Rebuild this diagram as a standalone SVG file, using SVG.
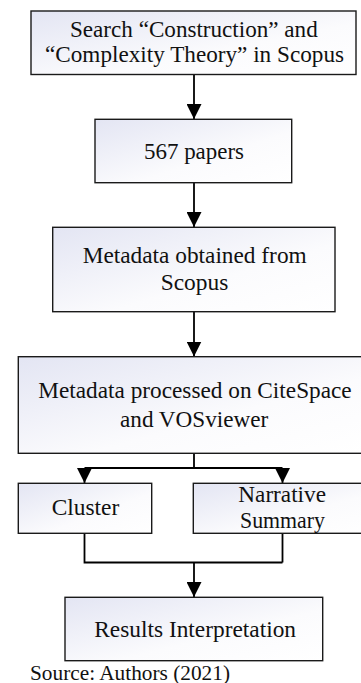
<svg xmlns="http://www.w3.org/2000/svg" width="361" height="683" viewBox="0 0 361 683">
<style>
.box{fill:url(#g);stroke:#1a1a1a;stroke-width:1.4}
.t{font-family:"Liberation Serif","Times New Roman","DejaVu Serif",serif;font-size:23px;fill:#111}
.c{fill:none;stroke:#000;stroke-width:1.8}
</style>
<defs>
<linearGradient id="g" x1="0" y1="0" x2="1" y2="1">
<stop offset="0" stop-color="#e3e5f3"/>
<stop offset="0.6" stop-color="#fbfbfd"/>
<stop offset="1" stop-color="#ffffff"/>
</linearGradient>
<marker id="a" markerUnits="userSpaceOnUse" markerWidth="16" markerHeight="15" refX="15" refY="7.5" orient="auto" viewBox="0 0 16 15">
<path d="M0,0 L15,7.5 L0,15 z" fill="#000"/>
</marker>
</defs>
<rect width="361" height="683" fill="#fff"/>
<g id="connectors">
<path class="c" d="M194,74.5 V119" marker-end="url(#a)"/>
<path class="c" d="M194,183 V227" marker-end="url(#a)"/>
<path class="c" d="M194,312 V356.5" marker-end="url(#a)"/>
<path class="c" d="M194,453.5 V468 M84.5,468 H282.5"/>
<path class="c" d="M84.5,468 V483" marker-end="url(#a)"/>
<path class="c" d="M282.5,468 V483" marker-end="url(#a)"/>
<path class="c" d="M84.5,533.5 V562.5 H282.5 M282.5,533.5 V562.5"/>
<path class="c" d="M194,562.5 V597" marker-end="url(#a)"/>
</g>
<g id="n1">
<rect class="box" x="31" y="11" width="325" height="63.5"/>
<text class="t" x="70" y="36.7" textLength="247.7" lengthAdjust="spacingAndGlyphs">Search “Construction” and</text>
<text class="t" x="45" y="61.7" textLength="299" lengthAdjust="spacingAndGlyphs">“Complexity Theory” in Scopus</text>
</g>
<g id="n2">
<rect class="box" x="95" y="119.3" width="196.7" height="63.4"/>
<text class="t" x="144" y="159.3" textLength="100" lengthAdjust="spacingAndGlyphs">567 papers</text>
</g>
<g id="n3">
<rect class="box" x="52.7" y="227.3" width="282.3" height="84.4"/>
<text class="t" x="82.7" y="262.7" textLength="224" lengthAdjust="spacingAndGlyphs">Metadata obtained from</text>
<text class="t" x="160.7" y="290" textLength="67.6" lengthAdjust="spacingAndGlyphs">Scopus</text>
</g>
<g id="n4">
<rect class="box" x="18.3" y="356.7" width="352" height="96.6"/>
<text class="t" x="38.3" y="398.3" textLength="313.4" lengthAdjust="spacingAndGlyphs">Metadata processed on CiteSpace</text>
<text class="t" x="120" y="426.7" textLength="148.3" lengthAdjust="spacingAndGlyphs">and VOSviewer</text>
</g>
<g id="n5">
<rect class="box" x="18.3" y="483.3" width="133.4" height="50"/>
<text class="t" x="51.7" y="515" textLength="67.6" lengthAdjust="spacingAndGlyphs">Cluster</text>
</g>
<g id="n6">
<rect class="box" x="193.3" y="483.3" width="180" height="50"/>
<text class="t" x="238.3" y="501.7" textLength="87.7" lengthAdjust="spacingAndGlyphs">Narrative</text>
<text class="t" x="240" y="528" textLength="85" lengthAdjust="spacingAndGlyphs">Summary</text>
</g>
<g id="n7">
<rect class="box" x="65" y="597.3" width="257.7" height="63.4"/>
<text class="t" x="94.3" y="636.7" textLength="201.7" lengthAdjust="spacingAndGlyphs">Results Interpretation</text>
</g>
<text class="t" x="30" y="679.5" style="font-size:20px" textLength="200" lengthAdjust="spacingAndGlyphs">Source: Authors (2021)</text>
</svg>
